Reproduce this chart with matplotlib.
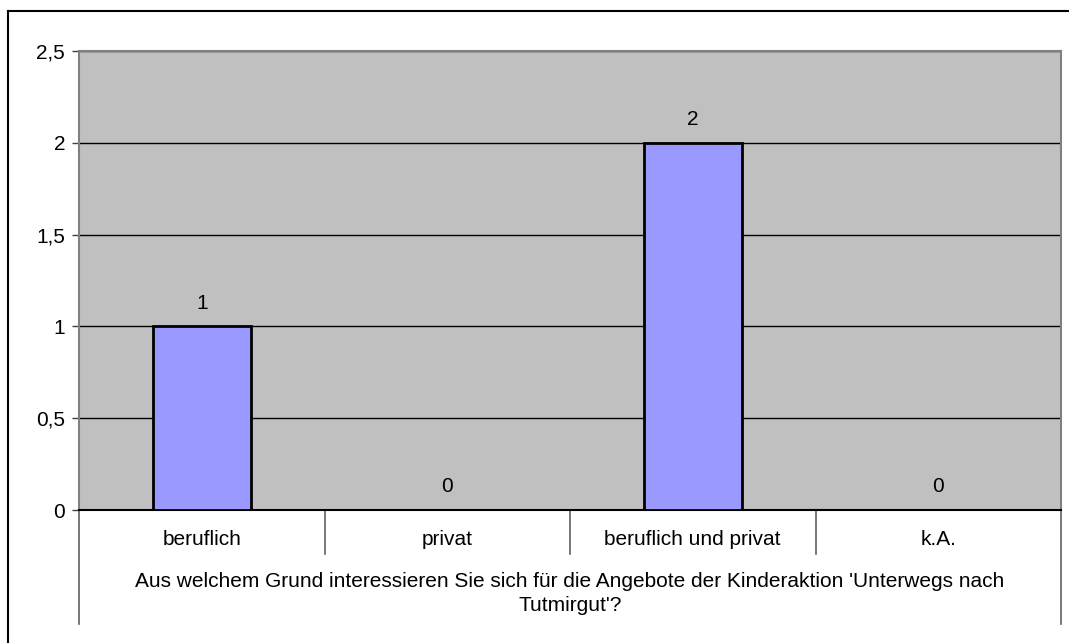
import numpy as np
import matplotlib.pyplot as plt
import matplotlib.transforms as mtransforms

plt.rcParams['font.family'] = ['Liberation Sans', 'DejaVu Sans']

# Data
categories = ["beruflich", "privat", "beruflich und privat", "k.A."]
values = [1, 0, 2, 0]
yticks = [0, 0.5, 1, 1.5, 2, 2.5]
ytick_labels = ["0", "0,5", "1", "1,5", "2", "2,5"]
question = "Aus welchem Grund interessieren Sie sich für die Angebote der Kinderaktion 'Unterwegs nach\nTutmirgut'?"

fs = 15

fig = plt.figure(figsize=(10.69, 6.43), dpi=100)
ax = fig.add_axes([79 / 1069, 1 - 510 / 643, (1061 - 79) / 1069, (510 - 51) / 643])
ax.set_facecolor('#C0C0C0')

x = np.arange(len(categories))
ax.bar(x, values, width=0.4, color='#9999FF', edgecolor='black', linewidth=2, zorder=3)

# value labels above bars
for xi, v in zip(x, values):
    ax.annotate(str(v), (xi, v), xytext=(0, 10), textcoords='offset points',
                ha='center', va='bottom', fontsize=fs)

ax.set_xlim(-0.5, len(categories) - 0.5)
ax.set_ylim(0, 2.5)
ax.set_yticks(yticks)
ax.set_yticklabels(ytick_labels, fontsize=fs)
ax.yaxis.grid(True, color='black', linewidth=1)
ax.set_axisbelow(True)
ax.tick_params(axis='y', length=5, width=1, color='#404040', pad=5)
ax.set_xticks([])

for side in ['left', 'right', 'top']:
    ax.spines[side].set_color('#808080')
    ax.spines[side].set_linewidth(1.5)
ax.spines['bottom'].set_color('black')
ax.spines['bottom'].set_linewidth(1.5)

# category table below the plot
trans = mtransforms.blended_transform_factory(ax.transData, ax.transAxes)
for b in np.arange(0.5, len(categories) - 1, 1.0):
    ax.plot([b, b], [0, -0.096], transform=trans, color='#606060', lw=1.2, clip_on=False)
for b in [-0.5, len(categories) - 0.5]:
    ax.plot([b, b], [0, -0.248], transform=trans, color='#606060', lw=1.2, clip_on=False)
for xi, c in zip(x, categories):
    ax.text(xi, -0.065, c, transform=trans, ha='center', va='center', fontsize=fs)
ax.text(0.5, -0.182, question, transform=ax.transAxes, ha='center', va='center',
        fontsize=fs, linespacing=1.3)

# outer border
fig.add_artist(plt.Line2D([8 / 1069, 8 / 1069], [0, 1 - 11 / 643], color='black', lw=1.5))
fig.add_artist(plt.Line2D([8 / 1069, 1], [1 - 11 / 643, 1 - 11 / 643], color='black', lw=1.5))

fig.savefig('out.png', dpi=100)
